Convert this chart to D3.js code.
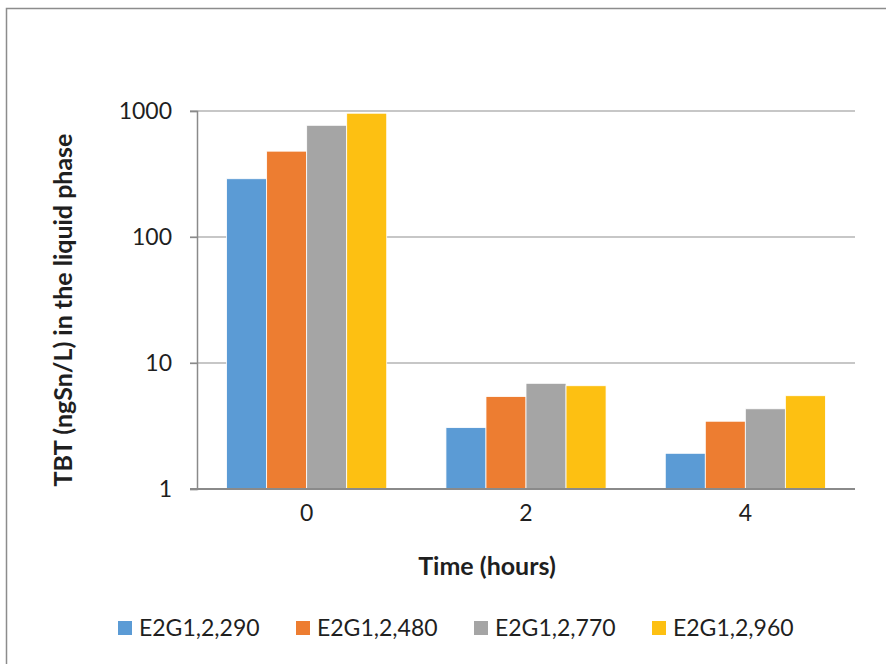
<!DOCTYPE html>
<html lang="en">
<head>
<meta charset="utf-8">
<title>TBT in the liquid phase</title>
<script src="https://cdnjs.cloudflare.com/ajax/libs/d3/7.8.5/d3.min.js"></script>
<style>
    body { margin: 0; background: #fff; font-family: Lato, 'Open Sans', sans-serif; }
    svg { display: block; }
</style>
</head>
<body>
<div id="chart"></div>
<script>
    // data
    var times = ["0", "2", "4"];
    var seriesNames = ["E2G1,2,290", "E2G1,2,480", "E2G1,2,770", "E2G1,2,960"];
    var s290 = [290, 3.07, 1.92];
    var s480 = [480, 5.42, 3.45];
    var s770 = [770, 6.9, 4.33];
    var s960 = [960, 6.6, 5.5];
    var yTicks = [1, 10, 100, 1000];
    var colors = ["#5b9bd5", "#ed7d31", "#a5a5a5", "#fdc012"];

    var allSeries = [s290, s480, s770, s960];

    var W = 886, H = 664;
    var m = {left: 197, right: 855, top: 111, bottom: 489};

    var svg = d3.select("#chart").append("svg")
        .attr("width", W).attr("height", H);

    // outer frame (only top/left edges visible in reference)
    svg.append("path")
        .attr("d", "M6.5," + H + "V8.5H" + W)
        .attr("fill", "none")
        .attr("stroke", "#8c8c8c")
        .attr("stroke-width", 1.5);

    var x = d3.scaleBand().domain(times).range([m.left, m.right]).paddingInner(0.27).paddingOuter(0.135);
    var xs = d3.scaleBand().domain(d3.range(seriesNames.length)).range([0, x.bandwidth()]);
    var y = d3.scaleLog().domain([1, 1000]).range([m.bottom, m.top]);

    // gridlines
    svg.append("g").selectAll("line")
        .data(yTicks.slice(1))
        .join("line")
        .attr("x1", m.left - 7).attr("x2", m.right)
        .attr("y1", d => y(d)).attr("y2", d => y(d))
        .attr("stroke", "#b4b4b4")
        .attr("stroke-width", 1.3);

    // bars
    var groups = svg.append("g").selectAll("g")
        .data(times)
        .join("g")
        .attr("transform", d => "translate(" + x(d) + ",0)");

    groups.selectAll("rect")
        .data((t, i) => allSeries.map((s, k) => ({k: k, v: s[i]})))
        .join("rect")
        .attr("x", d => xs(d.k))
        .attr("width", xs.bandwidth())
        .attr("y", d => y(d.v))
        .attr("height", d => y(1) - y(d.v))
        .attr("fill", d => colors[d.k])
        .attr("stroke", "#fff")
        .attr("stroke-width", 0.8);

    // y axis
    var yAxis = svg.append("g")
        .attr("transform", "translate(" + m.left + ",0)")
        .call(d3.axisLeft(y).tickValues(yTicks).tickFormat(d3.format("d")).tickSize(7).tickPadding(18));
    yAxis.select(".domain").attr("stroke", "#8a8a8a").attr("stroke-width", 1.5);
    yAxis.selectAll(".tick line").attr("stroke", "#8a8a8a").attr("stroke-width", 1.3);
    yAxis.selectAll(".tick text")
        .attr("font-family", "Lato, sans-serif")
        .attr("font-size", 23)
        .attr("fill", "#1f1f1f");

    // x axis
    var xAxis = svg.append("g")
        .attr("transform", "translate(0," + m.bottom + ")")
        .call(d3.axisBottom(x).tickSize(0).tickPadding(16));
    xAxis.select(".domain").attr("stroke", "#8a8a8a").attr("stroke-width", 2)
        .attr("d", "M" + (m.left - 7) + ",0H" + m.right);
    xAxis.selectAll(".tick text")
        .attr("font-family", "Lato, sans-serif")
        .attr("font-size", 23)
        .attr("fill", "#1f1f1f");

    // axis titles
    svg.append("text")
        .attr("x", 487).attr("y", 575)
        .attr("text-anchor", "middle")
        .attr("font-family", "Lato, sans-serif")
        .attr("font-weight", "bold")
        .attr("font-size", 25)
        .attr("fill", "#1f1f1f")
        .text("Time (hours)");

    svg.append("text")
        .attr("transform", "translate(72,310) rotate(-90)")
        .attr("text-anchor", "middle")
        .attr("font-family", "Lato, sans-serif")
        .attr("font-weight", "bold")
        .attr("font-size", 25)
        .attr("fill", "#1f1f1f")
        .text("TBT (ngSn/L) in the liquid phase");

    // legend
    var legend = svg.append("g").selectAll("g")
        .data(seriesNames)
        .join("g")
        .attr("transform", (d, i) => "translate(" + (118 + i * 178) + ",621)");
    legend.append("rect")
        .attr("width", 14).attr("height", 14)
        .attr("fill", (d, i) => colors[i]);
    legend.append("text")
        .attr("x", 21).attr("y", 15)
        .attr("font-family", "Lato, sans-serif")
        .attr("font-size", 23)
        .attr("fill", "#1f1f1f")
        .text(d => d);
</script>
</body>
</html>
